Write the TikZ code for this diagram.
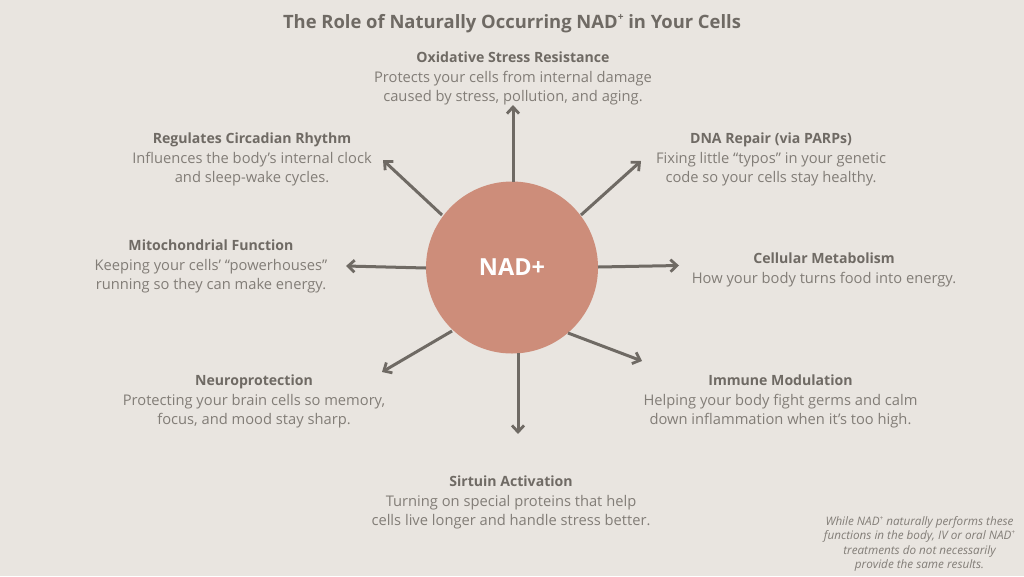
\documentclass[tikz,border=0pt]{standalone}
\usepackage{fontspec}
\setmainfont{Open Sans}
\definecolor{bg}{HTML}{E9E5E0}
\definecolor{ink}{HTML}{6F6A64}
\definecolor{body}{HTML}{827D77}
\definecolor{disc}{HTML}{CD8D7A}
\newcommand{\sups}{\raisebox{0.42em}{\scalebox{0.55}{+}}}
\tikzset{
  lbl/.style={align=center,text=body,font=\fontsize{14.7}{19.6}\selectfont,inner sep=0pt,anchor=north},
  arr/.style={draw=ink,line width=3pt,-{Straight Barb[length=6.5pt,width=12pt,line width=2.8pt]}},
}
\newcommand{\hd}[1]{{\fontsize{14.1}{19.6}\selectfont\bfseries\color{ink}#1}}
\usetikzlibrary{arrows.meta}
\begin{document}
\begin{tikzpicture}[x=1pt,y=-1pt]
\fill[bg] (0,0) rectangle (1024,576);
\useasboundingbox (0,0) rectangle (1024,576);
\node[circle,fill=disc,minimum size=172pt,inner sep=0pt,text=white,font=\fontsize{23.5}{26}\selectfont\bfseries] (hub) at (512,267.5) {NAD+};
\node[text=ink,font=\fontsize{18.4}{22}\selectfont\bfseries,inner sep=0pt] (title) at (512,23.5) {The Role of Naturally Occurring NAD\sups{} in Your Cells};
\node[lbl] (ox) at (513,51.5) {\hd{Oxidative Stress Resistance}\\Protects your cells from internal damage\\caused by stress, pollution, and aging.};
\node[lbl] (dna) at (771,132.5) {\hd{DNA Repair (via PARPs)}\\Fixing little “typos” in your genetic\\code so your cells stay healthy.};
\node[lbl] (met) at (824,252.5) {\hd{Cellular Metabolism}\\How your body turns food into energy.};
\node[lbl] (imm) at (780.5,374.5) {\hd{Immune Modulation}\\Helping your body fight germs and calm\\down inflammation when it’s too high.};
\node[lbl] (sir) at (511,475.5) {\hd{Sirtuin Activation}\\Turning on special proteins that help\\cells live longer and handle stress better.};
\node[lbl] (neu) at (254,374.5) {\hd{Neuroprotection}\\Protecting your brain cells so memory,\\focus, and mood stay sharp.};
\node[lbl] (mit) at (211,239.5) {\hd{Mitochondrial Function}\\Keeping your cells’ “powerhouses”\\running so they can make energy.};
\node[lbl] (cir) at (252,132.5) {\hd{Regulates Circadian Rhythm}\\Influences the body’s internal clock\\and sleep-wake cycles.};
\node[align=center,text=body,font=\fontsize{11.7}{14.6}\selectfont\itshape,inner sep=0pt,anchor=north] (note) at (919.5,516) {While NAD\sups{} naturally performs these\\functions in the body, IV or oral NAD\sups{}\\treatments do not necessarily\\provide the same results.};
\coordinate (aN) at (513,105); \coordinate (aNE) at (641,161); \coordinate (aE) at (679,265.5);
\coordinate (aSE) at (642,361); \coordinate (aS) at (518,434); \coordinate (aSW) at (382,372);
\coordinate (aW) at (346,266); \coordinate (aNW) at (383,160);
\coordinate (sN) at (513,181.5); \coordinate (sNE) at (581,215); \coordinate (sE) at (598,267);
\coordinate (sSE) at (568,333); \coordinate (sS) at (518,353); \coordinate (sSW) at (452,331);
\coordinate (sW) at (426,268); \coordinate (sNW) at (442,215);
\foreach \d in {N,NE,E,SE,S,SW,W,NW} \draw[arr] (s\d) -- (a\d);
\end{tikzpicture}
\end{document}
